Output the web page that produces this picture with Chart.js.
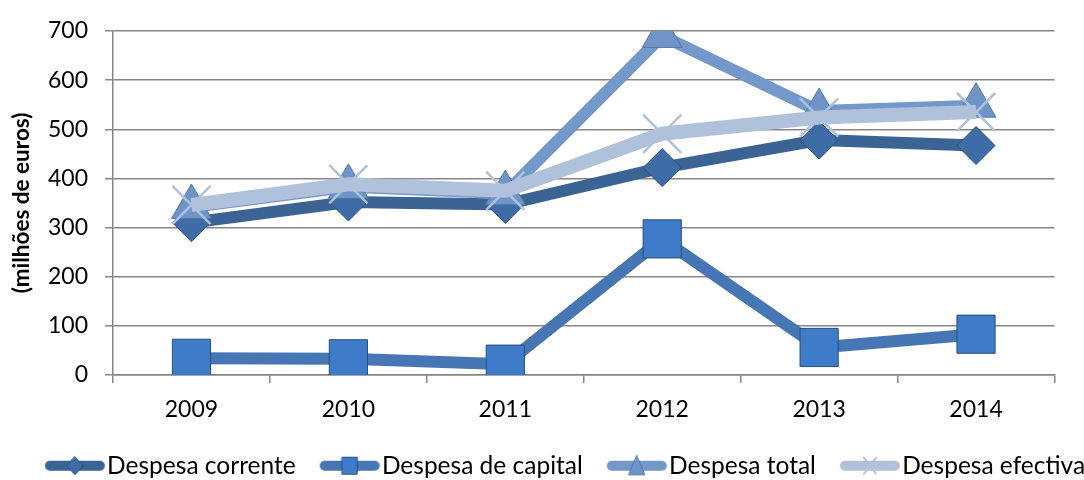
<!DOCTYPE html>
<html>
<head>
<meta charset="utf-8">
<script src="https://cdn.jsdelivr.net/npm/chart.js@4/dist/chart.umd.min.js"></script>
<style>
  html, body { margin: 0; padding: 0; background: #fff; }
  #wrap { width: 1084px; height: 480px; }
</style>
</head>
<body>
<div id="wrap"><canvas id="chart" width="1084" height="480"></canvas></div>
<script>
const years = ['2009', '2010', '2011', '2012', '2013', '2014'];
const correnteValues = [310, 352, 347, 422, 478, 467];
const capitalValues = [34, 33, 22, 277, 56, 83];
const totalValues = [342, 383, 370, 690, 537, 548];
const efectivaValues = [346, 388, 375, 491, 524, 535];
const seriesNames = ['Despesa corrente', 'Despesa de capital', 'Despesa total', 'Despesa efectiva'];
const yTicks = [0, 100, 200, 300, 400, 500, 600, 700];

const FONT = 'Lato, "Open Sans", sans-serif';

// small picture for each legend entry: thick line with the marker on top
function legendSample(lineColor, style, fill, stroke) {
    const c = document.createElement('canvas');
    c.width = 62; c.height = 24;
    const ctx = c.getContext('2d');
    ctx.strokeStyle = lineColor;
    ctx.lineWidth = 10;
    ctx.lineCap = 'round';
    ctx.beginPath();
    ctx.moveTo(6, 12); ctx.lineTo(56, 12);
    ctx.stroke();
    ctx.fillStyle = fill;
    ctx.strokeStyle = stroke;
    ctx.lineWidth = 1;
    ctx.beginPath();
    if (style === 'diamond') {
        ctx.moveTo(31, 3); ctx.lineTo(39, 12); ctx.lineTo(31, 21); ctx.lineTo(23, 12); ctx.closePath();
        ctx.fill(); ctx.stroke();
    } else if (style === 'square') {
        ctx.rect(23.5, 3.5, 15, 17);
        ctx.fill(); ctx.stroke();
    } else if (style === 'triangle') {
        ctx.moveTo(31, 2); ctx.lineTo(39, 21); ctx.lineTo(23, 21); ctx.closePath();
        ctx.fill(); ctx.stroke();
    } else {
        ctx.lineWidth = 2;
        ctx.moveTo(25, 4); ctx.lineTo(37, 20);
        ctx.moveTo(37, 4); ctx.lineTo(25, 20);
        ctx.stroke();
    }
    return c;
}

const samples = [
    legendSample('#3B6393', 'diamond', '#3D6CA6', '#2B4F7E'),
    legendSample('#4677B4', 'square', '#3E7CC9', '#2A4E7E'),
    legendSample('#7498C9', 'triangle', '#6E94C8', '#5476A8'),
    legendSample('#B0C1DB', 'cross', '#B0C1DB', '#B0C1DB')
];

// keep the legend on one row and sit it a bit right of centre, like the original
const legendNudge = {
    id: 'legendNudge',
    afterInit(chart) {
        const lg = chart.legend;
        const fitRows = lg._fitRows.bind(lg);
        lg._fitRows = function (...args) {
            const m = this.maxWidth;
            this.maxWidth = m + 80;
            const h = fitRows(...args);
            this.maxWidth = m;
            return h;
        };
        const draw = lg.draw.bind(lg);
        lg.draw = function () {
            const r = lg.right;
            lg.right = r + 80;
            chart.ctx.save();
            chart.ctx.translate(1, 0);
            draw();
            chart.ctx.restore();
            lg.right = r;
        };
    }
};

const ctx = document.getElementById('chart').getContext('2d');
new Chart(ctx, {
    type: 'line',
    data: {
        labels: years,
        datasets: [
            {
                label: seriesNames[0], data: correnteValues, order: 3,
                borderColor: '#3B6393', borderWidth: 12, tension: 0,
                pointStyle: 'rectRot', pointRadius: 19, pointBackgroundColor: '#3D6CA6',
                pointBorderColor: '#2B4F7E', pointBorderWidth: 1
            },
            {
                label: seriesNames[1], data: capitalValues, order: 2,
                borderColor: '#4677B4', borderWidth: 12, tension: 0,
                pointStyle: 'rect', pointRadius: 27, pointBackgroundColor: '#3E7CC9',
                pointBorderColor: '#2A4E7E', pointBorderWidth: 1
            },
            {
                label: seriesNames[2], data: totalValues, order: 1,
                borderColor: '#7498C9', borderWidth: 12, tension: 0,
                pointStyle: 'triangle', pointRadius: 23, pointBackgroundColor: '#6E94C8',
                pointBorderColor: '#5476A8', pointBorderWidth: 1
            },
            {
                label: seriesNames[3], data: efectivaValues, order: 0,
                borderColor: '#B0C1DB', borderWidth: 14, tension: 0,
                pointStyle: 'crossRot', pointRadius: 27, pointBackgroundColor: '#B0C1DB',
                pointBorderColor: '#B0C1DB', pointBorderWidth: 2.5
            }
        ]
    },
    plugins: [legendNudge],
    options: {
        responsive: false,
        animation: false,
        layout: { padding: { left: 0, right: 26, top: 31, bottom: -8 } },
        plugins: {
            tooltip: { enabled: false },
            legend: {
                position: 'bottom',
                labels: {
                    usePointStyle: true,
                    pointStyleWidth: 40,
                    boxHeight: 22,
                    padding: 34,
                    color: '#000',
                    font: { family: FONT, size: 24.5 },
                    sort: (a, b) => a.datasetIndex - b.datasetIndex,
                    generateLabels: (chart) => {
                        const items = Chart.defaults.plugins.legend.labels.generateLabels(chart);
                        items.forEach(it => { it.pointStyle = samples[it.datasetIndex]; });
                        return items;
                    }
                }
            }
        },
        scales: {
            x: {
                offset: true,
                border: { color: '#868686', width: 1.5 },
                grid: { offset: true, drawOnChartArea: false, drawTicks: true, tickLength: 8, color: '#868686', lineWidth: 1.5 },
                ticks: { color: '#000', padding: 13, font: { family: FONT, size: 23 } },
                afterFit: (scale) => { scale.height = 44.5; }
            },
            y: {
                min: 0, max: 700,
                afterBuildTicks: (scale) => { scale.ticks = yTicks.map(v => ({ value: v })); },
                border: { color: '#868686', width: 1.5 },
                grid: { color: '#868686', lineWidth: 1.5, tickLength: 8 },
                ticks: { color: '#000', padding: 17, font: { family: FONT, size: 23 } },
                title: {
                    display: true, text: '(milhões de euros)', color: '#000',
                    font: { family: FONT, size: 22.5, weight: 'bold' }, padding: 8
                },
                afterFit: (scale) => { scale.width = 113; }
            }
        }
    }
});
</script>
</body>
</html>
